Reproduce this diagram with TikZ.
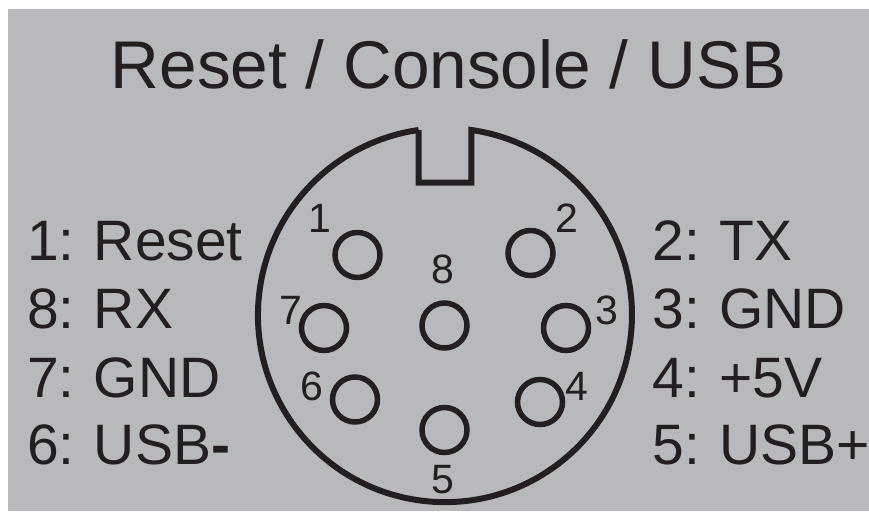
\documentclass[tikz,border=0pt]{standalone}
\usepackage{fontspec}
\setmainfont{Liberation Sans}
\newfontfamily\labelfont[WordSpace=0.88]{Liberation Sans}
\usetikzlibrary{positioning}
\definecolor{panelgray}{RGB}{184,185,189}
\definecolor{inkblack}{RGB}{35,31,32}
\begin{document}
\begin{tikzpicture}[
x=1pt,y=-1pt,
title/.style={
    inkblack,
    inner sep=0pt,
    anchor=base,
    font=\fontsize{67.5}{67.5}\selectfont
},
pinlabel/.style={
    inkblack,
    inner sep=0pt,
    anchor=base west,
    font=\labelfont\fontsize{57}{57}\selectfont
},
pinnum/.style={
    inkblack,
    inner sep=0pt,
    anchor=base,
    font=\fontsize{41}{41}\selectfont
},
pin/.style={
    draw=inkblack,
    circle,
    line width=5.5pt,
    minimum size=45pt,
    inner sep=0pt
}
]

\useasboundingbox (0,0) rectangle (869,511);
\fill[panelgray] (8,9) rectangle (869,511);

\node[title] (heading) at (448.5,88) {Reset / Console / USB};

% shell with the key notch
\draw[inkblack,line width=6pt,line join=miter]
    (418.7,130) -- (418.7,182.5) -- (471.3,182.5) -- (471.3,130)
    arc[start angle=-81.9,end angle=261.9,radius=187];

\foreach \pname/\px/\py in {a/357.5/255,b/530.5/253,c/566/328,d/540/402,e/444.5/430,f/355/399.5,g/324/328,h/444.5/325.5}
\node[pin] (pin\pname) at (\px,\py) {};

\foreach \pnum/\px/\py in {1/320/232,2/567/232,3/607/324,4/577/400,5/443/493,6/312/400,7/291/324,8/443/283}
\node[pinnum] (num\pnum) at (\px,\py) {\pnum};

\foreach \ptext/\py [count=\mi] in {1: Reset/260,8: RX/328,7: GND/397,6: USB{\bfseries -}/464}
\node[pinlabel] (left\mi) at (27,\py) {\ptext};
\foreach \ptext/\py [count=\mi] in {2: TX/260,3: GND/328,4: +5V/397,5: USB+/464}
\node[pinlabel] (right\mi) at (652.5,\py) {\ptext};
\end{tikzpicture}
\end{document}
